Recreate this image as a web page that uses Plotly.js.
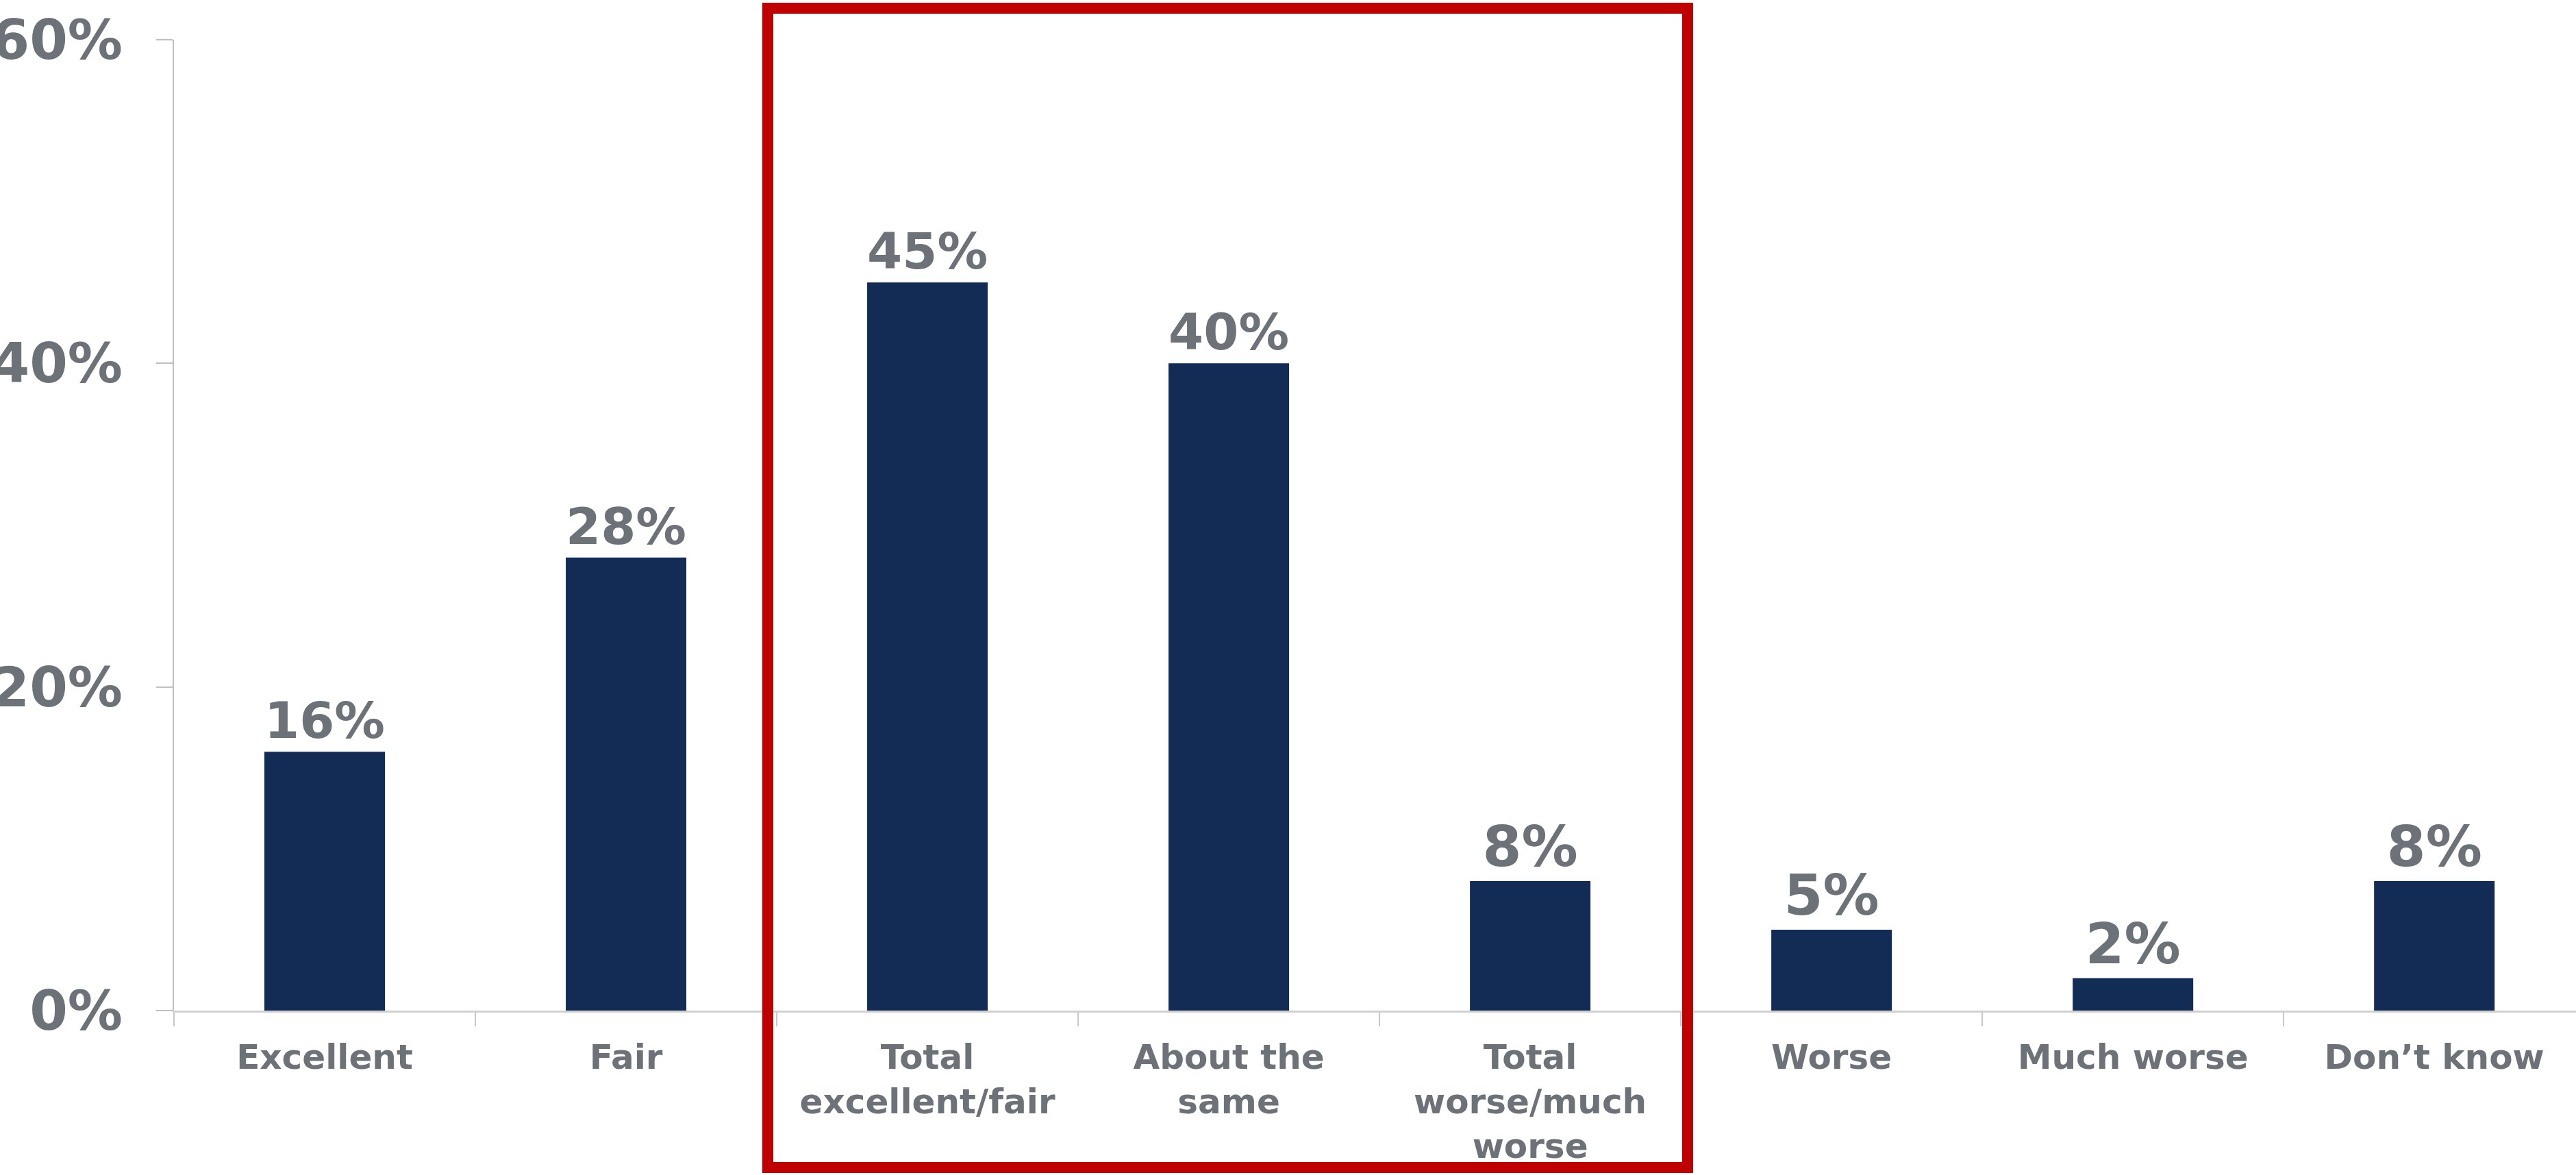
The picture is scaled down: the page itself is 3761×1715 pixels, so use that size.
<!DOCTYPE html>
<html>
<head>
<meta charset="utf-8">
<script src="https://cdn.plot.ly/plotly-3.0.1.min.js"></script>
<style>html,body{margin:0;padding:0;background:#fff;}#chart{width:3761px;height:1715px;}</style>
</head>
<body>
<div id="chart"></div>
<script>
const categories = ["Excellent", "Fair", "Total<br>excellent/fair", "About the<br>same", "Total<br>worse/much<br>worse", "Worse", "Much worse", "Don’t know"];
const values = [16, 28, 45, 40, 8, 5, 2, 8];
const yTickValues = [0, 20, 40, 60];
const yTickLabels = ["0%", "20%", "40%", "60%"];

const gray = "#6d7178";
const trace = {
  type: "bar",
  x: categories,
  y: values,
  marker: {color: "#132c56"},
  width: 0.4,
  text: values.map(v => v + "%"),
  textposition: "outside",
  textfont: {family: "DejaVu Sans", size: 82, color: gray, weight: "bold"},
  cliponaxis: false,
  hoverinfo: "none"
};

const layout = {
  width: 3761, height: 1715,
  margin: {l: 254, r: 0, t: 58, b: 240, pad: 0},
  paper_bgcolor: "#fff", plot_bgcolor: "#fff",
  showlegend: false,
  font: {family: "DejaVu Sans", color: gray},
  xaxis: {
    type: "category",
    range: [-0.5, 7.47],
    showline: true, linecolor: "#d0d0d0", linewidth: 3,
    ticks: "outside", tickson: "boundaries", ticklen: 20, tickcolor: "#c8c8c8", tickwidth: 2,
    tickfont: {family: "DejaVu Sans", size: 50, color: gray, weight: "bold"},
    ticklabelstandoff: 22,
    showgrid: false, zeroline: false, fixedrange: true
  },
  yaxis: {
    range: [0, 60],
    tickvals: yTickValues, ticktext: yTickLabels,
    showline: true, linecolor: "#c0c0c0", linewidth: 2,
    ticks: "outside", ticklen: 24, tickcolor: "#c0c0c0", tickwidth: 2,
    tickfont: {family: "DejaVu Sans", size: 80, color: gray, weight: "bold"},
    ticklabelstandoff: 33,
    showgrid: false, zeroline: false, fixedrange: true
  },
  shapes: [{
    type: "rect", xref: "paper", yref: "paper",
    x0: (1121 - 254) / 3507, x1: (2464 - 254) / 3507,
    y0: (1475 - 1704) / 1417, y1: (1475 - 12) / 1417,
    line: {color: "#c00000", width: 16}, fillcolor: "rgba(0,0,0,0)"
  }]
};

Plotly.newPlot("chart", [trace], layout, {staticPlot: true, displayModeBar: false});
</script>
</body>
</html>
